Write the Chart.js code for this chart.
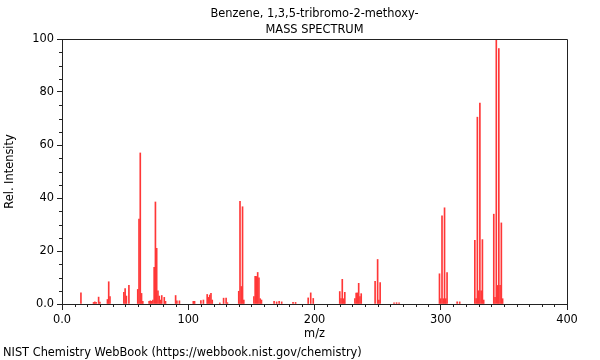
<!DOCTYPE html>
<html>
<head>
<meta charset="utf-8">
<script src="https://cdn.jsdelivr.net/npm/chart.js@4.4.0/dist/chart.umd.min.js"></script>
<style>
  html, body { margin: 0; padding: 0; background: #fff; }
  #wrap { width: 600px; height: 360px; position: relative; }
</style>
</head>
<body>
<div id="wrap"><canvas id="spectrum"></canvas></div>
<script>
// Text
const TITLE_LINES = ['Benzene, 1,3,5-tribromo-2-methoxy-', 'MASS SPECTRUM'];
const X_LABEL = 'm/z';
const Y_LABEL = 'Rel. Intensity';
const FOOTER = 'NIST Chemistry WebBook (https://webbook.nist.gov/chemistry)';

// Axis ranges / ticks
const X_MIN = 0, X_MAX = 400, X_STEP = 100, X_MINOR = 10;
const Y_MIN = 0, Y_MAX = 100, Y_STEP = 20, Y_MINOR = 5;

// Peaks: m/z and relative intensity
const mz = [
    15, 25, 26, 27, 29, 30, 36, 37, 38,
    49, 50, 51, 53, 60, 61, 62, 63, 64,
    69, 70, 71, 72, 73, 74, 75, 76, 77, 78, 79, 81, 82,
    90, 91, 93, 104, 105, 110, 112,
    115, 116, 117, 118, 119, 125, 128, 130, 131,
    140, 141, 142, 143, 144,
    152, 153, 154, 155, 156, 157, 158,
    168, 170, 172, 174, 183, 185,
    195, 197, 199,
    220, 221, 222, 223, 224,
    232, 233, 234, 235, 236, 237,
    248, 250, 251, 252, 263, 265, 267,
    299, 300, 301, 302, 303, 304, 305, 313, 315,
    327, 328, 329, 330, 331, 332, 333, 334,
    342, 343, 344, 345, 346, 347, 348, 349
];
const intensity = [
    4.2, 0.6, 0.8, 0.6, 2.6, 0.7, 1.7, 8.4, 2.8,
    4.4, 5.8, 3.0, 7.0, 5.5, 32, 57, 4, 1,
    1, 1.2, 1, 1.5, 13.8, 38.5, 21, 5, 3, 1.5, 3.2, 2.5, 1,
    3.2, 1.2, 1.2, 1, 1, 1.3, 1.5,
    3.6, 2.5, 3.4, 4, 1.5, 0.4, 2.2, 2.2, 0.5,
    4.8, 38.7, 6.6, 36.7, 1.5,
    2.8, 10.4, 10.4, 11.9, 9.9, 2, 1.5,
    1, 0.8, 1, 0.8, 0.6, 0.6,
    2.3, 4.2, 2.1,
    4.7, 2, 9.3, 2, 4.4,
    2, 4.1, 4.2, 7.8, 2.8, 3.9,
    8.6, 16.8, 1.5, 8.1, 0.4, 0.5, 0.4,
    11.4, 2, 33.3, 2, 36.3, 2, 11.9, 0.8, 0.8,
    24, 2, 70.5, 5, 75.8, 5, 24.3, 1.5,
    33.9, 2.5, 100, 7, 96.4, 7, 30.6, 2
];

const FONT = "'DejaVu Sans', sans-serif";
const AXIS_COLOR = '#222';
const PEAK_COLOR = 'rgb(255, 55, 55)';

Chart.defaults.font.family = FONT;
Chart.defaults.font.size = 11.4;
Chart.defaults.color = '#000';

// Minor ticks, plot frame, title and footer
const decorations = {
    id: 'decorations',
    afterDraw(chart) {
        const { ctx, chartArea: a, scales: { x, y } } = chart;
        ctx.save();
        ctx.strokeStyle = AXIS_COLOR;
        ctx.lineWidth = 1;
        ctx.beginPath();
        for (let v = X_MIN; v <= X_MAX; v += X_MINOR) {
            if (v % X_STEP === 0) continue;
            const px = Math.round(x.getPixelForValue(v)) + 0.5;
            ctx.moveTo(px, a.bottom);
            ctx.lineTo(px, a.bottom + 3);
        }
        for (let v = Y_MIN; v <= Y_MAX; v += Y_MINOR) {
            if (v % Y_STEP === 0) continue;
            const py = Math.round(y.getPixelForValue(v)) + 0.5;
            ctx.moveTo(a.left - 3, py);
            ctx.lineTo(a.left, py);
        }
        // top and right edge of the frame
        ctx.moveTo(a.left, Math.round(a.top) + 0.5);
        ctx.lineTo(Math.round(a.right) + 0.5, Math.round(a.top) + 0.5);
        ctx.lineTo(Math.round(a.right) + 0.5, a.bottom);
        ctx.stroke();

        ctx.fillStyle = '#000';
        ctx.font = '11.4px ' + FONT;
        ctx.textAlign = 'center';
        ctx.textBaseline = 'middle';
        const cx = (a.left + a.right) / 2;
        ctx.fillText(TITLE_LINES[0], cx, 14);
        ctx.fillText(TITLE_LINES[1], cx, 30);
        ctx.textAlign = 'left';
        ctx.fillText(FOOTER, 3, 353);
        ctx.restore();
    }
};

new Chart(document.getElementById('spectrum'), {
    type: 'bar',
    data: {
        datasets: [{
            data: mz.map((m, i) => ({ x: m, y: intensity[i] })),
            backgroundColor: PEAK_COLOR,
            borderWidth: 0,
            barThickness: 1,
        }]
    },
    options: {
        responsive: true,
        maintainAspectRatio: false,
        animation: false,
        layout: { padding: { top: 39, right: 33, left: 0, bottom: 0 } },
        plugins: {
            legend: { display: false },
            tooltip: { enabled: false },
        },
        scales: {
            x: {
                type: 'linear',
                min: X_MIN,
                max: X_MAX,
                offset: false,
                grid: { offset: false, drawOnChartArea: false, tickLength: 6, color: AXIS_COLOR },
                border: { color: AXIS_COLOR },
                ticks: {
                    stepSize: X_STEP,
                    maxRotation: 0,
                    padding: 3,
                    callback: v => v === 0 ? '0.0' : String(v),
                },
                title: { display: true, text: X_LABEL, padding: { top: 0, bottom: 19 } },
                afterFit: s => { s.height = 56; },
            },
            y: {
                min: Y_MIN,
                max: Y_MAX,
                grid: { drawOnChartArea: false, tickLength: 5, color: AXIS_COLOR },
                border: { color: AXIS_COLOR },
                ticks: {
                    stepSize: Y_STEP,
                    padding: 3,
                    callback: v => v === 0 ? '0.0' : String(v),
                },
                title: { display: true, text: Y_LABEL, padding: { top: 3, bottom: 0 } },
                afterFit: s => { s.width = 62; },
            }
        }
    },
    plugins: [decorations]
});
</script>
</body>
</html>
